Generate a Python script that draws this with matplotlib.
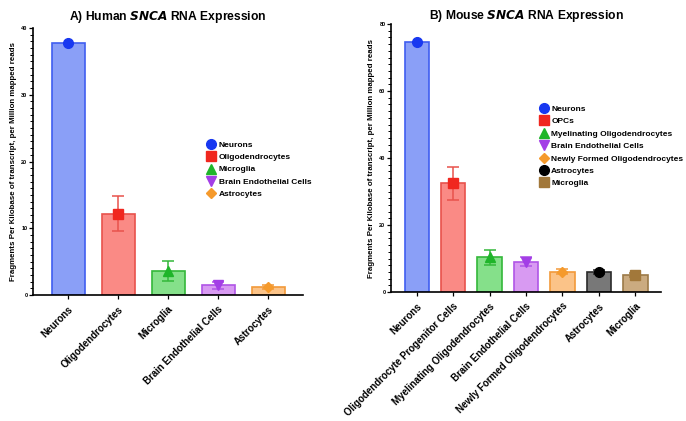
import matplotlib
matplotlib.use("Agg")
import matplotlib.pyplot as plt
from matplotlib.ticker import MultipleLocator
from matplotlib.lines import Line2D

plt.rcParams['font.family'] = ['Liberation Sans', 'DejaVu Sans']
plt.rcParams['font.weight'] = 'bold'

# Human data
human_cats = ["Neurons", "Oligodendrocytes", "Microglia", "Brain Endothelial Cells", "Astrocytes"]
human_vals = [37.8, 12.2, 3.65, 1.45, 1.15]
human_err = [0.0, 2.6, 1.5, 0.55, 0.3]
human_legend = ["Neurons", "Oligodendrocytes", "Microglia", "Brain Endothelial Cells", "Astrocytes"]

# Mouse data
mouse_cats = ["Neurons", "Oligodendrocyte Progenitor Cells", "Myelinating Oligodendrocytes",
              "Brain Endothelial Cells", "Newly Formed Oligodendrocytes", "Astrocytes", "Microglia"]
mouse_vals = [74.7, 32.4, 10.3, 9.1, 6.1, 5.9, 5.0]
mouse_err = [0.0, 4.9, 2.1, 1.3, 0.7, 0.6, 0.6]
mouse_legend = ["Neurons", "OPCs", "Myelinating Oligodendrocytes", "Brain Endothelial Cells",
                "Newly Formed Oligodendrocytes", "Astrocytes", "Microglia"]

human_style = [
    ("#8a9ff7", "#3f5ef0", "#1838f0", "o"),
    ("#fa8a85", "#e8524c", "#f0271f", "s"),
    ("#85e08a", "#34b83a", "#1fb52a", "^"),
    ("#d89af2", "#b055e6", "#a33ee6", "v"),
    ("#fbc388", "#f29a3a", "#f59a2c", "D"),
]
mouse_style = [
    ("#8a9ff7", "#3f5ef0", "#1838f0", "o"),
    ("#fa8a85", "#e8524c", "#f0271f", "s"),
    ("#85e08a", "#34b83a", "#1fb52a", "^"),
    ("#d89af2", "#b055e6", "#a33ee6", "v"),
    ("#fbc388", "#f29a3a", "#f59a2c", "D"),
    ("#787878", "#2a2a2a", "#000000", "o"),
    ("#cbab80", "#9c7a48", "#a2783a", "s"),
]

fig = plt.figure(figsize=(6.86, 4.21), dpi=100)
W, H = 686, 421


def panel(rect, cats, vals, errs, styles, legend_labels, ymax, major, title_parts, leg_pos, tpad):
    ax = fig.add_axes(rect)
    x = list(range(len(cats)))
    for i in x:
        fc, ec, mc, mk = styles[i]
        ax.bar(i, vals[i], width=0.66, color=fc, edgecolor=ec, linewidth=1.2, zorder=2)
        if errs[i] > 0:
            ax.errorbar(i, vals[i], yerr=errs[i], color=ec, capsize=4.5, elinewidth=1.1,
                        capthick=1.1, zorder=3)
        ms = 7 if mk in ("o", "s") else 6.5
        if mk == "D":
            ms = 5
        ax.plot(i, vals[i], marker=mk, color=mc, markersize=ms, linestyle="none", zorder=4)
    ax.set_xlim(-0.7, len(cats) - 0.3)
    ax.set_ylim(0, ymax)
    ax.yaxis.set_major_locator(MultipleLocator(major))
    ax.yaxis.set_minor_locator(MultipleLocator(major / 10))
    ax.tick_params(axis='y', which='major', labelsize=4, length=3, width=0.9, pad=1)
    ax.tick_params(axis='y', which='minor', length=2, width=0.7)
    ax.tick_params(axis='x', length=3, width=0.9, labelsize=7)
    ax.set_xticks(x)
    ax.set_xticklabels(cats, rotation=45, ha='right', rotation_mode='anchor', fontweight='bold')
    for s in ("top", "right"):
        ax.spines[s].set_visible(False)
    for s in ("left", "bottom"):
        ax.spines[s].set_linewidth(1.2)
    ax.set_ylabel("Fragments Per Kilobase of transcript, per Million mapped reads",
                  fontsize=5.7, fontweight='bold', labelpad=3)
    handles = [Line2D([0], [0], marker=st[3], color=st[2], linestyle='none',
                      markersize=(5 if st[3] == "D" else 7)) for st in styles]
    ax.legend(handles, legend_labels, loc='upper left', bbox_to_anchor=leg_pos,
              frameon=False, prop={'size': 6, 'weight': 'bold'}, handletextpad=0.3,
              labelspacing=0.55, borderaxespad=0, handlelength=1.2)
    ax.set_title(title_parts, fontsize=8.7, fontweight='bold', pad=tpad)
    return ax


ax1 = panel([33 / W, 1 - 295 / H, 270 / W, 267 / H], human_cats, human_vals, human_err,
            human_style, human_legend, 40, 10, r"A) Human $\bfit{SNCA}$ RNA Expression",
            (0.63, 0.59), 5.5)
ax2 = panel([391 / W, 1 - 292 / H, 270 / W, 268 / H], mouse_cats, mouse_vals, mouse_err,
            mouse_style, mouse_legend, 80, 20, r"B) Mouse $\bfit{SNCA}$ RNA Expression",
            (0.535, 0.71), 3)

fig.savefig("out.png", dpi=100)
